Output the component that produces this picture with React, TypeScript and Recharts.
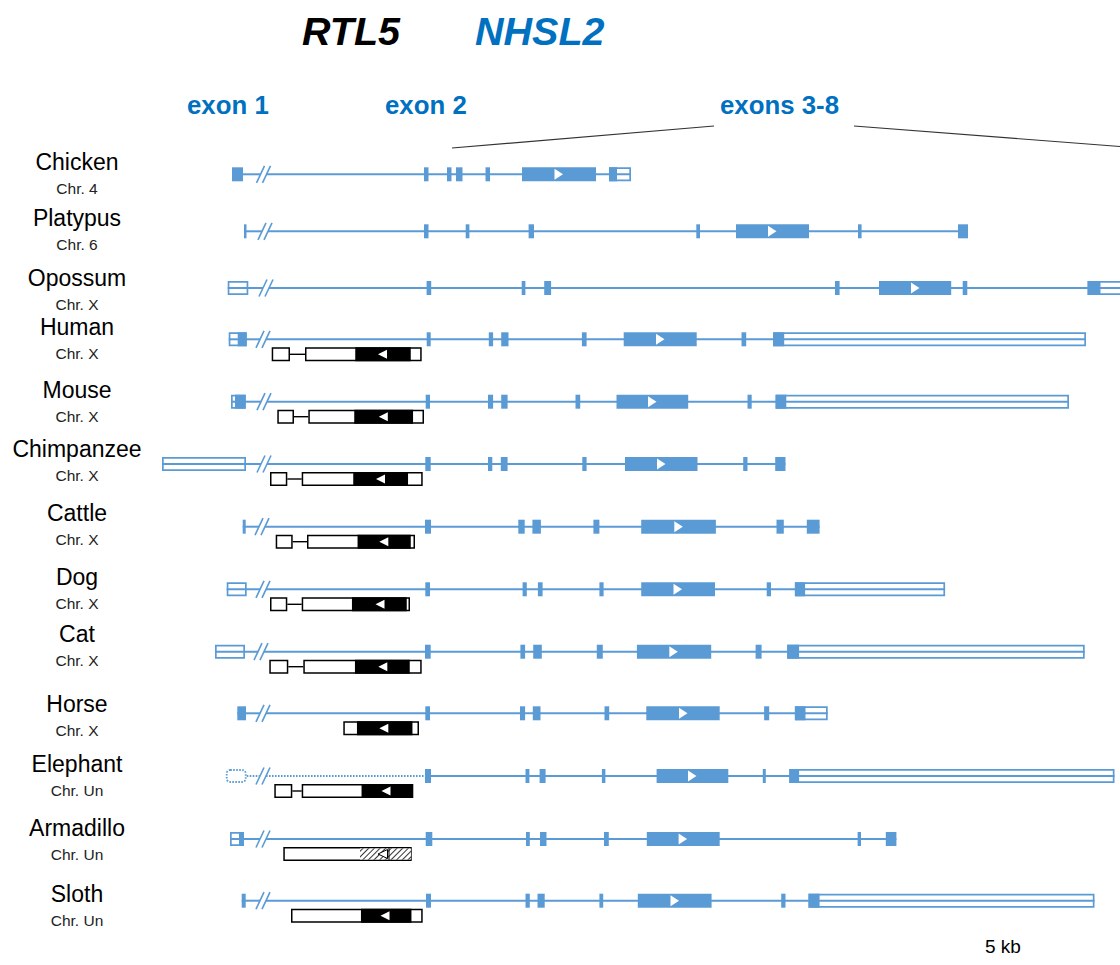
import React from 'react';
import { ComposedChart, XAxis, YAxis, ReferenceArea, ReferenceLine, ReferenceDot } from 'recharts';

// ---------- data (positions along the drawn gene axis) ----------
const species = ['Chicken', 'Platypus', 'Opossum', 'Human', 'Mouse', 'Chimpanzee', 'Cattle', 'Dog', 'Cat', 'Horse', 'Elephant', 'Armadillo', 'Sloth'];
const chromosomes = ['Chr. 4', 'Chr. 6', 'Chr. X', 'Chr. X', 'Chr. X', 'Chr. X', 'Chr. X', 'Chr. X', 'Chr. X', 'Chr. X', 'Chr. Un', 'Chr. Un', 'Chr. Un'];

// track (row) values on the vertical scale and label anchors
const trackPos = [174.3, 231.3, 288, 339.3, 401.7, 464, 526.7, 589.3, 651.7, 713.3, 776, 839, 900.7];
const labelPos = [170, 226, 286, 335, 398, 457, 521, 585, 642, 712, 772, 836, 902];

// NHSL2 coding (filled) exons
const nhsl2Cds: number[][][] = [
  [[232, 243], [424, 428.5], [447, 451.5], [456, 462.5], [485.5, 490], [522, 596], [609, 617]],
  [[244, 246.5], [424, 428.5], [465.7, 469.4], [528.6, 534], [696.3, 700], [736, 809], [858, 861.6], [958, 968]],
  [[426.6, 431.2], [521.7, 525.4], [544.2, 551.1], [835, 839.6], [879, 951.2], [962.7, 967.3], [1087.6, 1100.5]],
  [[237.7, 246.7], [426.7, 430.7], [488.8, 493.1], [501.2, 508.5], [581.9, 586.6], [623.7, 696.7], [741.5, 746.2], [773.1, 784.2]],
  [[235, 245.7], [425.7, 430], [488, 493.1], [501.2, 507.6], [575.5, 580.2], [616.5, 688.2], [747.5, 751.7], [775.6, 786.3]],
  [[425.3, 430.7], [488, 492.3], [500.8, 507.6], [582.3, 586.6], [625, 697.5], [743.2, 747.5], [775.2, 785.5]],
  [[242.7, 245.7], [425, 431], [518.3, 524.7], [532.4, 540.9], [593.4, 599.4], [641.2, 715.9], [776.5, 783.8], [806.8, 819.6]],
  [[425.3, 430], [522.6, 526.8], [537.9, 542.6], [599.4, 603.6], [641.2, 715], [766.7, 771], [794.9, 805.1]],
  [[425, 430.7], [520.4, 525.1], [533.2, 541.8], [596.8, 602.8], [636.9, 711.2], [755.6, 761.6], [787.2, 799.1]],
  [[237.3, 246], [425.3, 430], [520, 525.1], [532.8, 540.5], [604.5, 609.2], [646.3, 719.7], [764.1, 769.2], [794.9, 805.5]],
  [[425, 431], [525.5, 529.4], [539.6, 545.6], [601.9, 605.4], [656.6, 728.3], [762.8, 765.8], [789.3, 799.1]],
  [[239, 244], [425.7, 432.3], [526, 529.8], [540, 546.5], [604, 608.8], [646.8, 719.7], [857.6, 861], [885.8, 896.4]],
  [[241.7, 245.7], [426, 431], [525.5, 529.8], [537.5, 544.7], [599.4, 603.2], [637.8, 711.6], [781.2, 785.5], [808.5, 819.6]],
];

// NHSL2 untranslated (open) exon parts
const nhsl2Utr: number[][][] = [
  [[609, 631]],
  [],
  [[227.7, 248.3], [1087.6, 1124]],
  [[228.7, 246.7], [773.1, 1086]],
  [[231, 245.7], [775.6, 1069]],
  [[162, 246]],
  [],
  [[226.7, 246.7], [794.9, 945.1]],
  [[215, 245], [787.2, 1084.7]],
  [[794.9, 827.7]],
  [[789.3, 1114.5]],
  [[230, 244]],
  [[808.5, 1094.5]],
];

// uncertain (dotted) first exon
const nhsl2Uncertain: (number[] | null)[] = [null, null, null, null, null, null, null, null, null, null, [225.7, 246.7], null, null];

// direction arrow inside coding exon, and intron break mark
const nhsl2Arrow = [558.5, 772, 915, 660, 652, 661, 678.3, 677.5, 673.3, 683, 692, 682.6, 674.5];
const breakPos = [263.5, 265, 266, 263, 264, 264, 262, 263, 261, 263, 263, 263, 263];

// RTL5 (antisense, drawn below)
const rtl5Exons: number[][][] = [
  [], [], [],
  [[271.7, 290], [305, 421.7]],
  [[277.3, 294], [308.3, 424]],
  [[270, 287.3], [301.7, 422.7]],
  [[275.7, 292.7], [307, 415]],
  [[270, 287.3], [301.7, 410]],
  [[269.3, 288.3], [303.3, 421.7]],
  [[343.3, 419]],
  [[274.3, 292.3], [301.7, 413.3]],
  [[283.3, 411.7]],
  [[291, 422.7]],
];
const rtl5Cds: (number[] | null)[] = [null, null, null, [356, 410], [355, 412.3], [354, 407.3], [358.3, 410], [352.7, 406], [355.7, 409], [357.7, 411.7], [362.3, 411.7], [360, 411.7], [361.7, 410.7]];
const rtl5Arrow: (number | null)[] = [null, null, null, 382.5, 383.3, 380.5, 383.8, 380, 382.8, 383.8, 386, 383, 385];
const rtl5Pseudo = [false, false, false, false, false, false, false, false, false, false, false, true, false];

// ---------- style ----------
const BLUE = '#5b9bd5';
const TITLE_BLUE = '#0070c0';
const FONT = '"Liberation Sans", Arial, Helvetica, sans-serif';
const EXH = 7;
const RTOFF = 15;
const RTH = 7;

const area = (key: string, x1: number, x2: number, y1: number, y2: number, p: any) => (
  <ReferenceArea key={key} x1={x1} x2={x2} y1={y1} y2={y2} ifOverflow="visible" fillOpacity={1} {...p} />
);
const seg = (key: string, x1: number, y1: number, x2: number, y2: number, p: any) => (
  <ReferenceLine key={key} segment={[{ x: x1, y: y1 }, { x: x2, y: y2 }]} ifOverflow="visible" {...p} />
);
const txt = (key: string, x: number, y: number, content: string, p: any) => (
  <ReferenceDot key={key} x={x} y={y} ifOverflow="visible" shape={(d: any) => (
    <text x={d.cx} y={d.cy} fontFamily={FONT} {...p}>{content}</text>
  )} />
);

const SpeciesTick = (props: any) => {
  const { y, payload } = props;
  const i = labelPos.indexOf(payload.value);
  if (i < 0) return null;
  return (
    <g>
      <text x={77} y={y} textAnchor="middle" fontFamily={FONT} fontSize={23} fill="#000">{species[i]}</text>
      <text x={77} y={y + 24} textAnchor="middle" fontFamily={FONT} fontSize={15.5} fill="#222">{chromosomes[i]}</text>
    </g>
  );
};

function buildNhsl2() {
  const out: any[] = [];
  species.forEach((_, i) => {
    const y = trackPos[i];
    const blocks = [...nhsl2Cds[i], ...nhsl2Utr[i]];
    const unc = nhsl2Uncertain[i];
    const start = unc ? unc[1] : Math.min(...blocks.map((b) => b[0]));
    const end = Math.max(...blocks.map((b) => b[1]));
    const b = breakPos[i];
    const solid = { stroke: BLUE, strokeWidth: 2 };
    const dotted = { stroke: BLUE, strokeWidth: 1.8, strokeDasharray: '1.6 1.4' };
    if (unc) {
      const firstSolid = nhsl2Cds[i][0][0];
      out.push(seg(`l1-${i}`, start, y, b - 3, y, dotted));
      out.push(seg(`l2-${i}`, b + 3, y, firstSolid, y, dotted));
      out.push(seg(`l3-${i}`, firstSolid, y, end, y, solid));
    } else {
      out.push(seg(`l1-${i}`, start, y, b - 3, y, solid));
      out.push(seg(`l2-${i}`, b + 3, y, end, y, solid));
    }
    out.push(seg(`s1-${i}`, b - 7, y + 8.5, b + 1, y - 8.5, { stroke: BLUE, strokeWidth: 1.6 }));
    out.push(seg(`s2-${i}`, b - 1, y + 8.5, b + 7, y - 8.5, { stroke: BLUE, strokeWidth: 1.6 }));
    if (unc) {
      out.push(
        <ReferenceArea key={`unc-${i}`} x1={unc[0] + 1} x2={unc[1] - 1} y1={y - EXH + 1} y2={y + EXH - 1} ifOverflow="visible"
          shape={(r: any) => (
            <rect x={Math.min(r.x, r.x + r.width)} y={Math.min(r.y, r.y + r.height)} width={Math.abs(r.width)} height={Math.abs(r.height)}
              rx={3.5} fill="#fff" stroke={BLUE} strokeWidth={1.8} strokeDasharray="1.6 1.4" />
          )} />
      );
    }
    nhsl2Utr[i].forEach((u, k) => out.push(area(`u-${i}-${k}`, u[0] + 0.85, u[1] - 0.85, y - EXH + 0.85, y + EXH - 0.85, { fill: '#fff', stroke: BLUE, strokeWidth: 1.7 })));
    nhsl2Cds[i].forEach((c, k) => out.push(area(`c-${i}-${k}`, c[0], c[1], y - EXH, y + EXH, { fill: BLUE, stroke: 'none' })));
    out.push(
      <ReferenceDot key={`a-${i}`} x={nhsl2Arrow[i]} y={y} ifOverflow="visible" shape={(d: any) => (
        <polygon points={`${d.cx - 4},${d.cy - 5.5} ${d.cx - 4},${d.cy + 5.5} ${d.cx + 4.5},${d.cy}`} fill="#fff" />
      )} />
    );
  });
  return out;
}

function buildRtl5() {
  const out: any[] = [];
  species.forEach((_, i) => {
    const ex = rtl5Exons[i];
    if (!ex.length) return;
    const y = trackPos[i] + RTOFF;
    for (let k = 0; k < ex.length - 1; k++) {
      out.push(seg(`rc-${i}-${k}`, ex[k][1], y, ex[k + 1][0], y, { stroke: '#000', strokeWidth: 1.4 }));
    }
    ex.forEach((e, k) => out.push(area(`rb-${i}-${k}`, e[0] + 0.75, e[1] - 0.75, y - RTH + 0.75, y + RTH - 0.75, { fill: '#fff', stroke: '#000', strokeWidth: 1.5 })));
    const c = rtl5Cds[i]!;
    const a = rtl5Arrow[i]!;
    if (rtl5Pseudo[i]) {
      out.push(area(`rh-${i}`, c[0], c[1] - 0.75, y - RTH + 1.5, y + RTH - 1.5, { fill: 'url(#hatch)', stroke: 'none' }));
      out.push(
        <ReferenceDot key={`ra-${i}`} x={a} y={y} ifOverflow="visible" shape={(d: any) => (
          <polygon points={`${d.cx - 5},${d.cy} ${d.cx + 4.5},${d.cy - 4.5} ${d.cx + 4.5},${d.cy + 4.5}`} fill="#fff" stroke="#000" strokeWidth={1} />
        )} />
      );
      out.push(seg(`rv-${i}`, a + 6, y - RTH + 0.75, a + 6, y + RTH - 0.75, { stroke: '#000', strokeWidth: 1 }));
    } else {
      out.push(area(`rk-${i}`, c[0], c[1], y - RTH + 0.75, y + RTH - 0.75, { fill: '#000', stroke: '#000', strokeWidth: 1.5 }));
      out.push(
        <ReferenceDot key={`ra-${i}`} x={a} y={y} ifOverflow="visible" shape={(d: any) => (
          <polygon points={`${d.cx - 4.5},${d.cy} ${d.cx + 4.5},${d.cy - 4.5} ${d.cx + 4.5},${d.cy + 4.5}`} fill="#fff" />
        )} />
      );
    }
  });
  return out;
}

export default function App() {
  return (
    <div style={{ position: 'absolute', left: 0, top: 0, width: 1120, height: 965, background: '#fff', fontFamily: FONT }}>
      <ComposedChart width={1120} height={965} margin={{ top: 0, right: 0, bottom: 0, left: 0 }} data={[{ x: 150 }, { x: 1120 }]}>
        <defs>
          <pattern id="hatch" patternUnits="userSpaceOnUse" width={4} height={4} patternTransform="rotate(45)">
            <rect x={0} y={0} width={4} height={4} fill="#fff" />
            <line x1={0} y1={0} x2={0} y2={4} stroke="#000" strokeWidth={1.6} />
          </pattern>
        </defs>
        <XAxis type="number" dataKey="x" domain={[150, 1120]} hide allowDataOverflow />
        <YAxis type="number" domain={[0, 965]} reversed allowDataOverflow ticks={labelPos} interval={0} width={150}
          axisLine={false} tickLine={false} tick={<SpeciesTick />} />
        {txt('t-rtl5', 302, 45, 'RTL5', { fontSize: 39.5, fontWeight: 'bold', fontStyle: 'italic', fill: '#000' })}
        {txt('t-nhsl2', 475, 45, 'NHSL2', { fontSize: 39.5, fontWeight: 'bold', fontStyle: 'italic', fill: TITLE_BLUE })}
        {txt('t-e1', 187, 114, 'exon 1', { fontSize: 25.8, fontWeight: 'bold', fill: TITLE_BLUE })}
        {txt('t-e2', 385, 114, 'exon 2', { fontSize: 25.8, fontWeight: 'bold', fill: TITLE_BLUE })}
        {txt('t-e38', 720, 114, 'exons 3-8', { fontSize: 25.8, fontWeight: 'bold', fill: TITLE_BLUE })}
        {seg('z1', 452, 148, 714, 126, { stroke: '#333', strokeWidth: 1.2 })}
        {seg('z2', 854, 126, 1120, 146.5, { stroke: '#333', strokeWidth: 1.2 })}
        {buildNhsl2()}
        {buildRtl5()}
        {txt('t-kb', 985, 953, '5 kb', { fontSize: 19, fill: '#000' })}
      </ComposedChart>
    </div>
  );
}
